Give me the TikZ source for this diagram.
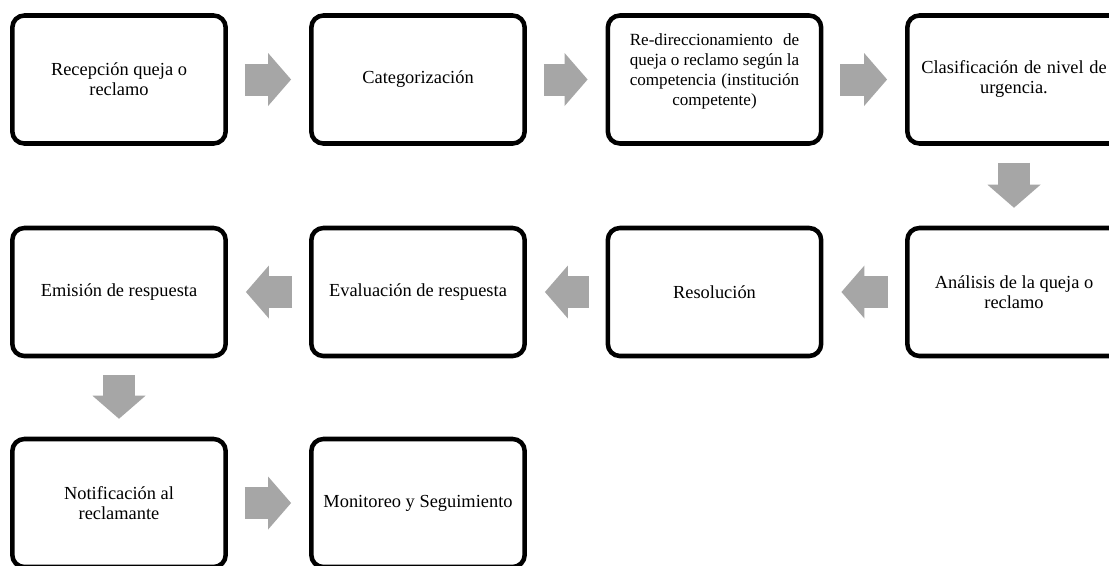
\documentclass[tikz,border=0pt]{standalone}
\usepackage{fontspec}
\setmainfont{Liberation Serif}
\usetikzlibrary{arrows.meta}
\definecolor{arrowgray}{HTML}{A6A6A6}
\tikzset{
  stepbox/.style={draw=black, line width=3.4pt, rounded corners=9pt,
    minimum width=160pt, minimum height=96pt, inner sep=0pt, align=center,
    font=\fontsize{13.8pt}{15pt}\selectfont},
  blockarrow/.style={draw=arrowgray, line width=24pt,
    shorten <=12.75pt, shorten >=13.5pt,
    -{Triangle[length=17.25pt, width=39.75pt, line width=0pt]}},
}
\begin{document}
\begin{tikzpicture}[x=0.75pt, y=-0.75pt]
\clip (0,0) rectangle (1109,565);
\fill[white] (0,0) rectangle (1109,565);
% row 1
\node[stepbox] (n1) at (119,79.5) {Recepción queja o\\reclamo};
\node[stepbox] (n2) at (418,79.5) {Categorización};
\node[stepbox, font=\fontsize{12.8pt}{15pt}\selectfont] (n3) at (714.5,79.5)
  {\makebox[127pt][s]{Re-direccionamiento de}\\
   \makebox[127pt][s]{queja o reclamo según la}\\
   \makebox[127pt][s]{competencia (institución}\\
   competente)\\\mbox{}};
\node[stepbox] (n4) at (1014,79.5) {\makebox[139pt][s]{Clasificación de nivel de}\\urgencia.};
% row 2
\node[stepbox] (n5) at (1014,292) {Análisis de la queja o\\reclamo};
\node[stepbox] (n6) at (714.5,292) {Resolución};
\node[stepbox] (n7) at (418,292) {Evaluación de respuesta};
\node[stepbox] (n8) at (119,292) {Emisión de respuesta};
% row 3
\node[stepbox] (n9) at (119,503) {Notificación al\\reclamante};
\node[stepbox] (n10) at (418,503) {Monitoreo y Seguimiento};
% connectors
\draw[blockarrow] (n1) -- (n2);
\draw[blockarrow] (n2) -- (n3);
\draw[blockarrow] (n3) -- (n4);
\draw[blockarrow] (n4) -- (n5);
\draw[blockarrow] (n5) -- (n6);
\draw[blockarrow] (n6) -- (n7);
\draw[blockarrow] (n7) -- (n8);
\draw[blockarrow] (n8) -- (n9);
\draw[blockarrow] (n9) -- (n10);
\end{tikzpicture}
\end{document}
